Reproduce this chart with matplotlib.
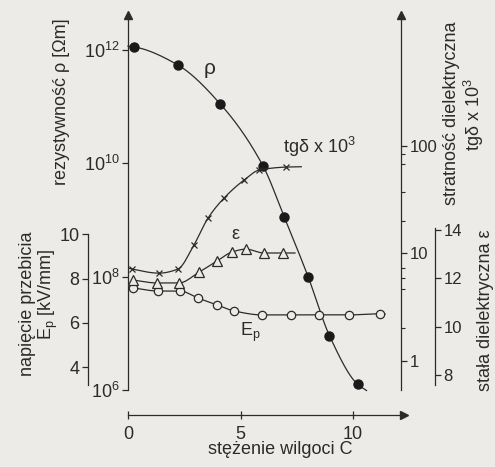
import numpy as np
import matplotlib
matplotlib.use("Agg")
import matplotlib.pyplot as plt
from matplotlib.ticker import FixedLocator, NullLocator, NullFormatter
from matplotlib.transforms import ScaledTranslation

# moisture concentration C and the measured points of each property
rho_c = [0.25, 2.2, 4.1, 6.0, 6.95, 8.0, 8.95, 10.2]
rho_val = [1.12e12, 5.4e11, 1.1e11, 8.9e9, 1.1e9, 1.0e8, 9.1e6, 1.26e6]
rho_line_c = [0.0, 10.6]          # ends of the drawn curve
rho_line_val = [1.15e12, 9.8e5]

tg_c = [0.18, 1.38, 2.22, 2.93, 3.56, 4.27, 5.16, 5.82, 7.02]
tg_val = [7.1, 6.5, 7.1, 11.9, 21.2, 32.5, 47.8, 59.0, 63.0]
tg_line_c = [0.0, 7.7]
tg_line_val = [7.25, 63.5]

eps_c = [0.22, 1.29, 2.27, 3.16, 3.96, 4.62, 5.24, 6.04, 6.89]
eps_val = [11.93, 11.81, 11.81, 12.26, 12.72, 13.09, 13.21, 13.05, 13.05]
eps_line_c = [7.42]
eps_line_val = [13.05]

ep_c = [0.22, 1.33, 2.31, 3.11, 3.96, 4.71, 5.96, 7.24, 8.49, 9.82, 11.2]
ep_val = [7.58, 7.44, 7.44, 7.12, 6.81, 6.54, 6.36, 6.36, 6.36, 6.36, 6.41]
ep_line_c = [11.42]
ep_line_val = [6.4]

rho_ticks = [1e6, 1e8, 1e10, 1e12]
rho_ticklabels = [r"$\mathregular{10^{6}}$", r"$\mathregular{10^{8}}$",
                  r"$\mathregular{10^{10}}$", r"$\mathregular{10^{12}}$"]
tg_ticks = [1, 10, 100]
tg_minor = [2, 4.6, 5.9, 7.2, 20, 37, 68, 83]
ep_ticks = [4, 6, 8, 10]
eps_ticks = [8, 10, 12, 14]
c_ticks = [0, 5, 10]

plt.rcParams['font.family'] = ['Liberation Sans', 'DejaVu Sans']
plt.rcParams['mathtext.fontset'] = 'custom'
plt.rcParams['mathtext.rm'] = 'Liberation Sans'
plt.rcParams['mathtext.it'] = 'Liberation Sans'

ink = '#2b2b2b'
bg = '#ecebe7'
fs = 13      # titles
ts = 12      # tick labels


def smooth(x, y, log=False, n=300):
    # monotone cubic (pchip) curve through the points, for drawing the line
    x = np.asarray(x, float)
    y = np.asarray(y, float)
    if log:
        y = np.log10(y)
    h = np.diff(x)
    d = np.diff(y) / h
    m = np.zeros_like(y)
    for k in range(1, len(x) - 1):
        if d[k - 1] * d[k] > 0:
            w1 = 2 * h[k] + h[k - 1]
            w2 = h[k] + 2 * h[k - 1]
            m[k] = (w1 + w2) / (w1 / d[k - 1] + w2 / d[k])
    m[0] = d[0]
    m[-1] = d[-1]
    xs = np.linspace(x[0], x[-1], n)
    i = np.clip(np.searchsorted(x, xs) - 1, 0, len(h) - 1)
    t = (xs - x[i]) / h[i]
    ys = ((2 * t**3 - 3 * t**2 + 1) * y[i] + (t**3 - 2 * t**2 + t) * h[i] * m[i]
          + (-2 * t**3 + 3 * t**2) * y[i + 1] + (t**3 - t**2) * h[i] * m[i + 1])
    if log:
        ys = 10 ** ys
    return xs, ys


W, H = 495, 467
fig = plt.figure(figsize=(W / 100, H / 100), dpi=100)
fig.patch.set_facecolor(bg)


def fx(px):
    return px / W


def fy(py):
    return 1 - py / H


ax = fig.add_axes([fx(128), fy(390), 273 / W, 375 / H])
ax.set_facecolor('none')
ax.set_xlim(0, 12.13)
ax.set_yscale('log')
ax.set_ylim(1e6, 10 ** 12.61)
for s in ['top', 'right']:
    ax.spines[s].set_visible(False)
ax.spines['bottom'].set_position(('outward', 18))
for s in ['left', 'bottom']:
    ax.spines[s].set_color(ink)
    ax.spines[s].set_linewidth(0.9)
ax.yaxis.set_major_locator(FixedLocator(rho_ticks))
ax.set_yticklabels(rho_ticklabels)
ax.yaxis.set_minor_locator(NullLocator())
ax.yaxis.set_minor_formatter(NullFormatter())
ax.set_xticks(c_ticks)
ax.tick_params(axis='y', direction='out', length=4, width=0.9, color=ink,
               labelcolor=ink, labelsize=fs, pad=2)
ax.tick_params(axis='x', direction='inout', length=6, width=0.9, color=ink,
               labelcolor=ink, labelsize=fs, pad=5)

# breakdown strength axis (outer left)
ax_ep = ax.twinx()
ax_ep.set_ylim(2.97, 19.9)
for s in ['top', 'right', 'bottom']:
    ax_ep.spines[s].set_visible(False)
ax_ep.spines['left'].set_visible(True)
ax_ep.spines['left'].set_position(('outward', 29))
ax_ep.spines['left'].set_bounds(3.2, 10)
ax_ep.spines['left'].set_color(ink)
ax_ep.spines['left'].set_linewidth(0.9)
ax_ep.yaxis.set_ticks_position('left')
ax_ep.yaxis.set_label_position('left')
ax_ep.set_yticks(ep_ticks)
ax_ep.tick_params(axis='y', direction='out', length=4, width=0.9, color=ink,
                  labelcolor=ink, labelsize=fs, pad=2)

# loss factor axis (right)
ax_tg = ax.twinx()
ax_tg.set_yscale('log')
ax_tg.set_ylim(10 ** -0.274, 10 ** 3.214)
for s in ['top', 'left', 'bottom']:
    ax_tg.spines[s].set_visible(False)
ax_tg.spines['right'].set_color(ink)
ax_tg.spines['right'].set_linewidth(0.9)
ax_tg.yaxis.set_major_locator(FixedLocator(tg_ticks))
ax_tg.set_yticklabels([str(v) for v in tg_ticks])
ax_tg.yaxis.set_minor_locator(FixedLocator(tg_minor))
ax_tg.yaxis.set_minor_formatter(NullFormatter())
ax_tg.tick_params(axis='y', which='major', direction='out', length=4, width=0.9,
                  color=ink, labelcolor=ink, labelsize=ts, pad=2)
ax_tg.tick_params(axis='y', which='minor', direction='out', length=3, width=0.8, color=ink)

# permittivity axis (outer right)
ax_eps = ax.twinx()
ax_eps.set_ylim(7.38, 22.9)
for s in ['top', 'left', 'bottom']:
    ax_eps.spines[s].set_visible(False)
ax_eps.spines['right'].set_position(('outward', 24.5))
ax_eps.spines['right'].set_bounds(7.6, 14.1)
ax_eps.spines['right'].set_color(ink)
ax_eps.spines['right'].set_linewidth(0.9)
ax_eps.set_yticks(eps_ticks)
ax_eps.tick_params(axis='y', direction='out', length=4, width=0.9, color=ink,
                   labelcolor=ink, labelsize=ts, pad=2)

# curves
lw = 0.9
x, y = smooth([rho_line_c[0]] + rho_c + [rho_line_c[1]],
              [rho_line_val[0]] + rho_val + [rho_line_val[1]], log=True)
ax.plot(x, y, color=ink, lw=lw, clip_on=False)
ax.plot(rho_c, rho_val, 'o', color='#1a1a1a', ms=6.5, clip_on=False)

x, y = smooth([tg_line_c[0]] + tg_c + [tg_line_c[1]],
              [tg_line_val[0]] + tg_val + [tg_line_val[1]], log=True)
ax_tg.plot(x, y, color=ink, lw=lw)
ax_tg.plot(tg_c, tg_val, 'x', color=ink, ms=5, mew=0.9)

x, y = smooth(eps_c + eps_line_c, eps_val + eps_line_val)
ax_eps.plot(x, y, color=ink, lw=lw)
ax_eps.plot(eps_c, eps_val, '^', mfc=bg, mec=ink, ms=7, mew=0.9)

x, y = smooth(ep_c + ep_line_c, ep_val + ep_line_val)
ax_ep.plot(x, y, color=ink, lw=lw)
ax_ep.plot(ep_c, ep_val, 'o', mfc=bg, mec=ink, ms=6, mew=0.9)

# arrow heads on the axes
ax.plot(0, 1, '^', color=ink, ms=6, transform=ax.transAxes, clip_on=False)
ax.plot(1, 1, '^', color=ink, ms=6, transform=ax.transAxes, clip_on=False)
down = ax.transAxes + ScaledTranslation(0, -18 / 72, fig.dpi_scale_trans)
ax.plot(1.01, 0, '>', color=ink, ms=6, transform=down, clip_on=False)

# curve names
ax.text(3.64, 10 ** 11.64, r'$\mathregular{\rho}$', fontsize=fs + 2, color=ink,
        ha='center', va='center')
ax_tg.text(6.9, 97, r'tgδ x 10$\mathregular{^3}$', fontsize=fs, color=ink,
           ha='left', va='center')
ax_eps.text(4.76, 13.8, 'ε', fontsize=fs, color=ink, ha='center', va='center')
ax_ep.text(5.42, 5.59, r'$\mathregular{E_p}$', fontsize=fs, color=ink,
           ha='center', va='center')

# axis titles
fig.text(fx(62), fy(102), 'rezystywność ρ [Ωm]', rotation=90, fontsize=fs,
         color=ink, ha='center', va='center')
fig.text(fx(27), fy(304), 'napięcie przebicia', rotation=90, fontsize=fs,
         color=ink, ha='center', va='center')
fig.text(fx(48), fy(294), r'$\mathregular{E_p}$ [kV/mm]', rotation=90, fontsize=fs,
         color=ink, ha='center', va='center')
fig.text(fx(451), fy(113), 'stratność dielektryczna', rotation=90, fontsize=fs,
         color=ink, ha='center', va='center')
fig.text(fx(474), fy(115), r'tgδ x 10$\mathregular{^3}$', rotation=90, fontsize=fs,
         color=ink, ha='center', va='center')
fig.text(fx(485), fy(310), 'stała dielektryczna ε', rotation=90, fontsize=fs,
         color=ink, ha='center', va='center')
fig.text(fx(280), fy(450), 'stężenie wilgoci C', fontsize=fs, color=ink,
         ha='center', va='center')

fig.savefig('out.png', dpi=100, facecolor=bg)
